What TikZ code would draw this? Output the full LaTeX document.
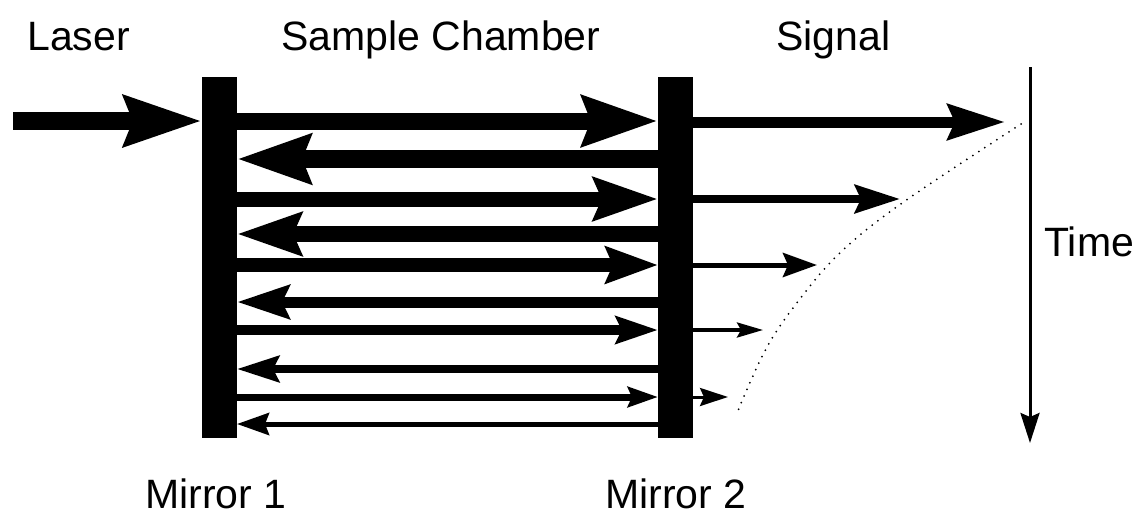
\documentclass[tikz,border=0pt]{standalone}
\usepackage{fontspec}
\setmainfont{Liberation Sans}
\usetikzlibrary{arrows.meta}
\tikzset{
  mirror/.style={fill=black, draw=none, inner sep=0pt, outer sep=0pt,
    minimum width=17.5pt, minimum height=180.5pt},
  lbl/.style={inner sep=0pt, font=\fontsize{20.5}{24}\selectfont},
  beam/.style n args={4}{line width=#1, -{Stealth[length=#2, width=#3, inset=#4]}},
  trace/.style={line width=1pt, line cap=round, dash pattern=on 0pt off 3.6pt}
}
\begin{document}
\begin{tikzpicture}[x=0.5pt, y=-0.5pt]
\useasboundingbox (0,0) rectangle (1135,514);

% mirrors
\node[mirror] (m1) at (219.5,257.5) {};
\node[mirror] (m2) at (675.5,257.5) {};

% row levels inside the chamber
\path (0,121) coordinate (r1)  (0,159) coordinate (r2)
      (0,199) coordinate (r3)  (0,234) coordinate (r4)
      (0,265) coordinate (r5)  (0,302) coordinate (r6)
      (0,330) coordinate (r7)  (0,369) coordinate (r8)
      (0,397) coordinate (r9)  (0,424) coordinate (r10);

% incoming laser
\coordinate (src) at (13,121);
\draw[beam={9pt}{38.5pt}{24.5pt}{4pt}] (src) -- (m1.west |- r1);

% bounces between the mirrors
\draw[beam={8.5pt}{37.5pt}{24.5pt}{4pt}] (m1.east |- r1) -- (m2.west |- r1);
\draw[beam={9pt}{36.5pt}{24pt}{4pt}]     (m2.west |- r2) -- (m1.east |- r2);
\draw[beam={7.5pt}{32pt}{21pt}{4pt}]     (m1.east |- r3) -- (m2.west |- r3);
\draw[beam={8pt}{32pt}{21pt}{4pt}]       (m2.west |- r4) -- (m1.east |- r4);
\draw[beam={7pt}{26pt}{18pt}{3.5pt}]     (m1.east |- r5) -- (m2.west |- r5);
\draw[beam={5.5pt}{26pt}{16.5pt}{3.5pt}] (m2.west |- r6) -- (m1.east |- r6);
\draw[beam={5pt}{21pt}{13.5pt}{3pt}]     (m1.east |- r7) -- (m2.west |- r7);
\draw[beam={4pt}{21pt}{13pt}{3pt}]       (m2.west |- r8) -- (m1.east |- r8);
\draw[beam={3.5pt}{15pt}{10pt}{2pt}]     (m1.east |- r9) -- (m2.west |- r9);
\draw[beam={2.5pt}{16pt}{11pt}{2pt}]     (m2.west |- r10) -- (m1.east |- r10);

% transmitted signal
\path (1005,122) coordinate (s1) (900,199) coordinate (s2)
      (817,265) coordinate (s3)  (763,330) coordinate (s4)
      (728,397) coordinate (s5);
\draw[beam={5.5pt}{28.5pt}{17.5pt}{3.5pt}] (m2.east |- s1) -- (s1);
\draw[beam={4pt}{22.5pt}{14pt}{3pt}]       (m2.east |- s2) -- (s2);
\draw[beam={2.5pt}{17pt}{12pt}{2.5pt}]     (m2.east |- s3) -- (s3);
\draw[beam={1.75pt}{13pt}{7.5pt}{2pt}]     (m2.east |- s4) -- (s4);
\draw[beam={1.5pt}{14pt}{9pt}{2pt}]        (m2.east |- s5) -- (s5);

% decay envelope
\draw[trace] plot[smooth, tension=0.6] coordinates
  {(1021,124) (905,201) (843,250) (803,295) (767,347) (737,413)};

% time axis
\coordinate (t0) at (1030,67);
\coordinate (t1) at (1030,443);
\draw[beam={1.5pt}{15pt}{9.5pt}{2pt}] (t0) -- (t1);

% labels
\node[lbl, anchor=base west] (laser)  at (27,50)   {Laser};
\node[lbl, anchor=base west] (cham)   at (281,50)  {Sample Chamber};
\node[lbl, anchor=base west] (signal) at (776,50)  {Signal};
\node[lbl, anchor=base west] (time)   at (1044,256) {Time};
\node[lbl, anchor=base] (lm1) at (216,508) {Mirror 1};
\node[lbl, anchor=base] (lm2) at (676,508) {Mirror 2};
\end{tikzpicture}
\end{document}
